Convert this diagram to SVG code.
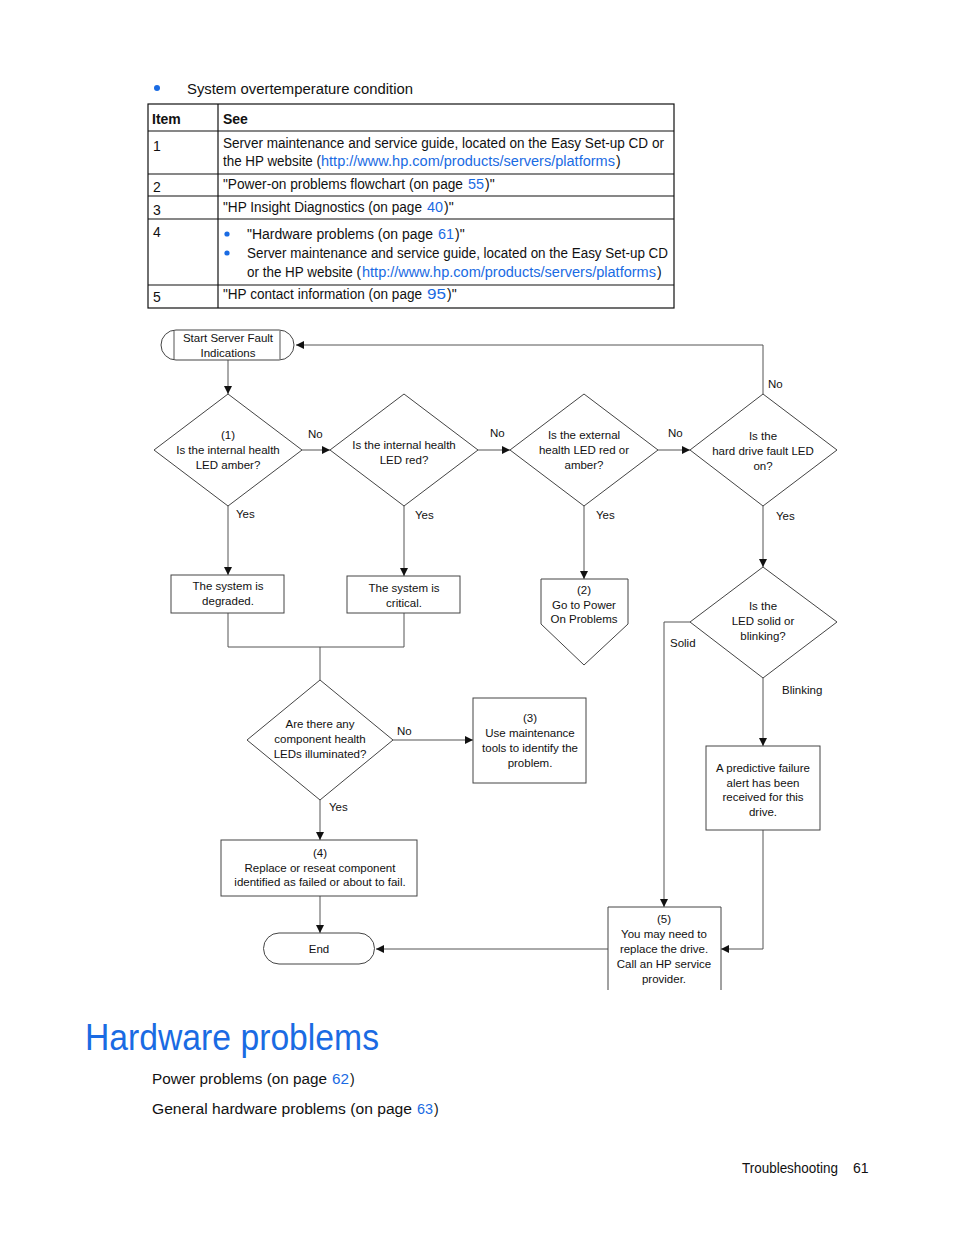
<svg xmlns="http://www.w3.org/2000/svg" width="954" height="1235" viewBox="0 0 954 1235">
<style>
.pg{font-family:"Liberation Sans",Arial,sans-serif;font-size:14px;fill:#111}
.b{font-weight:bold}
.lk{fill:#1a6be3}
.fc{font-family:"Liberation Sans",Arial,sans-serif;font-size:11.5px;fill:#111;text-anchor:middle}
.lb{font-family:"Liberation Sans",Arial,sans-serif;font-size:11.5px;fill:#111}
.sh{fill:#fff;stroke:#444;stroke-width:1}
.tl{stroke:#111;stroke-width:1.2;fill:none}
.ln{stroke:#555;stroke-width:1;fill:none}
</style>
<defs>
<marker id="ar" viewBox="0 0 10 10" refX="10" refY="5" markerWidth="10" markerHeight="8" markerUnits="userSpaceOnUse" orient="auto">
<path d="M0,0 L10,5 L0,10 z" fill="#111"/>
</marker>
</defs>
<rect width="954" height="1235" fill="#fff"/>

<g id="intro">
<circle cx="157" cy="88" r="3" fill="#1a6be3"/>
<text class="pg" x="187" y="94" textLength="226" lengthAdjust="spacingAndGlyphs">System overtemperature condition</text>
</g>

<g id="table">
<rect x="148" y="104" width="526" height="204" class="tl"/>
<line x1="218" y1="104" x2="218" y2="308" class="tl"/>
<line x1="148" y1="131" x2="674" y2="131" class="tl"/>
<line x1="148" y1="174" x2="674" y2="174" class="tl"/>
<line x1="148" y1="196" x2="674" y2="196" class="tl"/>
<line x1="148" y1="219" x2="674" y2="219" class="tl"/>
<line x1="148" y1="285" x2="674" y2="285" class="tl"/>
<text class="pg b" x="152" y="124">Item</text>
<text class="pg b" x="223" y="124">See</text>
<text class="pg" x="153" y="151">1</text>
<text class="pg" x="223" y="148" textLength="441" lengthAdjust="spacingAndGlyphs">Server maintenance and service guide, located on the Easy Set-up CD or</text>
<text class="pg" x="223" y="166" textLength="98" lengthAdjust="spacingAndGlyphs">the HP website (</text>
<text class="pg lk" x="321" y="166" textLength="294" lengthAdjust="spacingAndGlyphs">http://www.hp.com/products/servers/platforms</text>
<text class="pg" x="616" y="166">)</text>
<text class="pg" x="153" y="192">2</text>
<text class="pg" x="223" y="189" textLength="240" lengthAdjust="spacingAndGlyphs">"Power-on problems flowchart (on page</text>
<text class="pg lk" x="468" y="189" textLength="16" lengthAdjust="spacingAndGlyphs">55</text>
<text class="pg" x="485" y="189">)"</text>
<text class="pg" x="153" y="215">3</text>
<text class="pg" x="223" y="212" textLength="199" lengthAdjust="spacingAndGlyphs">"HP Insight Diagnostics (on page</text>
<text class="pg lk" x="427" y="212" textLength="16" lengthAdjust="spacingAndGlyphs">40</text>
<text class="pg" x="444" y="212">)"</text>
<text class="pg" x="153" y="237">4</text>
<circle cx="227" cy="234" r="2.6" fill="#1a6be3"/>
<circle cx="227" cy="253" r="2.6" fill="#1a6be3"/>
<text class="pg" x="247" y="239" textLength="186" lengthAdjust="spacingAndGlyphs">"Hardware problems (on page</text>
<text class="pg lk" x="438" y="239" textLength="16" lengthAdjust="spacingAndGlyphs">61</text>
<text class="pg" x="455" y="239">)"</text>
<text class="pg" x="247" y="258" textLength="421" lengthAdjust="spacingAndGlyphs">Server maintenance and service guide, located on the Easy Set-up CD</text>
<text class="pg" x="247" y="277" textLength="114" lengthAdjust="spacingAndGlyphs">or the HP website (</text>
<text class="pg lk" x="362" y="277" textLength="294" lengthAdjust="spacingAndGlyphs">http://www.hp.com/products/servers/platforms</text>
<text class="pg" x="657" y="277">)</text>
<text class="pg" x="153" y="302">5</text>
<text class="pg" x="223" y="299" textLength="199" lengthAdjust="spacingAndGlyphs">"HP contact information (on page</text>
<text class="pg lk" x="427" y="299" textLength="19" lengthAdjust="spacingAndGlyphs">95</text>
<text class="pg" x="447" y="299">)"</text>
</g>

<g id="connectors">
<polyline class="ln" points="763,394 763,345 296,345" marker-end="url(#ar)"/>
<line class="ln" x1="228" y1="360" x2="228" y2="394" marker-end="url(#ar)"/>
<line class="ln" x1="302" y1="450" x2="330" y2="450" marker-end="url(#ar)"/>
<line class="ln" x1="478" y1="450" x2="510" y2="450" marker-end="url(#ar)"/>
<line class="ln" x1="658" y1="450" x2="690" y2="450" marker-end="url(#ar)"/>
<line class="ln" x1="228" y1="506" x2="228" y2="575" marker-end="url(#ar)"/>
<line class="ln" x1="404" y1="506" x2="404" y2="576" marker-end="url(#ar)"/>
<line class="ln" x1="584" y1="506" x2="584" y2="579" marker-end="url(#ar)"/>
<line class="ln" x1="763" y1="506" x2="763" y2="567" marker-end="url(#ar)"/>
<polyline class="ln" points="228,613 228,647 404,647 404,613"/>
<line class="ln" x1="320" y1="647" x2="320" y2="680"/>
<line class="ln" x1="393" y1="740" x2="473" y2="740" marker-end="url(#ar)"/>
<line class="ln" x1="320" y1="800" x2="320" y2="840" marker-end="url(#ar)"/>
<line class="ln" x1="320" y1="896" x2="320" y2="933" marker-end="url(#ar)"/>
<polyline class="ln" points="690,622 664,622 664,907" marker-end="url(#ar)"/>
<line class="ln" x1="763" y1="678" x2="763" y2="746" marker-end="url(#ar)"/>
<polyline class="ln" points="763,830 763,949 721,949" marker-end="url(#ar)"/>
<line class="ln" x1="608" y1="949" x2="376" y2="949" marker-end="url(#ar)"/>
<text class="lb" x="308" y="438">No</text>
<text class="lb" x="490" y="437">No</text>
<text class="lb" x="668" y="437">No</text>
<text class="lb" x="768" y="388">No</text>
<text class="lb" x="236" y="518">Yes</text>
<text class="lb" x="415" y="519">Yes</text>
<text class="lb" x="596" y="519">Yes</text>
<text class="lb" x="776" y="520">Yes</text>
<text class="lb" x="670" y="647">Solid</text>
<text class="lb" x="782" y="694">Blinking</text>
<text class="lb" x="397" y="735">No</text>
<text class="lb" x="329" y="811">Yes</text>
</g>

<g id="start">
<path class="sh" d="M176,330 L279,330 A15,15 0 0 1 279,360 L176,360 A15,15 0 0 1 176,330 Z"/>
<line class="ln" x1="174" y1="331" x2="174" y2="359" stroke="#444"/>
<line class="ln" x1="280" y1="331" x2="280" y2="359" stroke="#444"/>
<text class="fc" x="228" y="342">Start Server Fault</text>
<text class="fc" x="228" y="357">Indications</text>
</g>

<g id="d1">
<polygon class="sh" points="228,394 302,450 228,506 154,450"/>
<text class="fc" x="228" y="439">(1)</text>
<text class="fc" x="228" y="454">Is the internal health</text>
<text class="fc" x="228" y="469">LED amber?</text>
</g>
<g id="d2">
<polygon class="sh" points="404,394 478,450 404,506 330,450"/>
<text class="fc" x="404" y="449">Is the internal health</text>
<text class="fc" x="404" y="464">LED red?</text>
</g>
<g id="d3">
<polygon class="sh" points="584,394 658,450 584,506 510,450"/>
<text class="fc" x="584" y="439">Is the external</text>
<text class="fc" x="584" y="454">health LED red or</text>
<text class="fc" x="584" y="469">amber?</text>
</g>
<g id="d4">
<polygon class="sh" points="763,394 837,450 763,506 690,450"/>
<text class="fc" x="763" y="440">Is the</text>
<text class="fc" x="763" y="455">hard drive fault LED</text>
<text class="fc" x="763" y="470">on?</text>
</g>

<g id="degraded">
<rect class="sh" x="171" y="575" width="113" height="38"/>
<text class="fc" x="228" y="590">The system is</text>
<text class="fc" x="228" y="605">degraded.</text>
</g>
<g id="critical">
<rect class="sh" x="347" y="576" width="113" height="37"/>
<text class="fc" x="404" y="592">The system is</text>
<text class="fc" x="404" y="607">critical.</text>
</g>
<g id="power">
<polygon class="sh" points="541,579 628,579 628,624 584,665 541,624"/>
<text class="fc" x="584" y="594">(2)</text>
<text class="fc" x="584" y="609">Go to Power</text>
<text class="fc" x="584" y="623">On Problems</text>
</g>
<g id="d5">
<polygon class="sh" points="763,567 837,622 763,678 690,622"/>
<text class="fc" x="763" y="610">Is the</text>
<text class="fc" x="763" y="625">LED solid or</text>
<text class="fc" x="763" y="640">blinking?</text>
</g>

<g id="d6">
<polygon class="sh" points="320,680 393,740 320,800 247,740"/>
<text class="fc" x="320" y="728">Are there any</text>
<text class="fc" x="320" y="743">component health</text>
<text class="fc" x="320" y="758">LEDs illuminated?</text>
</g>
<g id="tools">
<rect class="sh" x="473" y="698" width="113" height="85"/>
<text class="fc" x="530" y="722">(3)</text>
<text class="fc" x="530" y="737">Use maintenance</text>
<text class="fc" x="530" y="752">tools to identify the</text>
<text class="fc" x="530" y="767">problem.</text>
</g>
<g id="predictive">
<rect class="sh" x="706" y="746" width="114" height="84"/>
<text class="fc" x="763" y="772">A predictive failure</text>
<text class="fc" x="763" y="787">alert has been</text>
<text class="fc" x="763" y="801">received for this</text>
<text class="fc" x="763" y="816">drive.</text>
</g>
<g id="replace">
<rect class="sh" x="221" y="840" width="196" height="56"/>
<text class="fc" x="320" y="857">(4)</text>
<text class="fc" x="320" y="872">Replace or reseat component</text>
<text class="fc" x="320" y="886">identified as failed or about to fail.</text>
</g>
<g id="end">
<path class="sh" d="M279,933 L359,933 A15.5,15.5 0 0 1 359,964 L279,964 A15.5,15.5 0 0 1 279,933 Z"/>
<text class="fc" x="319" y="953">End</text>
</g>
<g id="callhp">
<polyline class="sh" points="608,990 608,907 721,907 721,990"/>
<text class="fc" x="664" y="923">(5)</text>
<text class="fc" x="664" y="938">You may need to</text>
<text class="fc" x="664" y="953">replace the drive.</text>
<text class="fc" x="664" y="968">Call an HP service</text>
<text class="fc" x="664" y="983">provider.</text>
</g>

<g id="footer">
<text x="85" y="1050" font-family="'Liberation Sans',Arial,sans-serif" font-size="36" fill="#1a6be3" textLength="294" lengthAdjust="spacingAndGlyphs">Hardware problems</text>
<text class="pg" x="152" y="1084" textLength="175" lengthAdjust="spacingAndGlyphs">Power problems (on page</text>
<text class="pg lk" x="332" y="1084" textLength="17" lengthAdjust="spacingAndGlyphs">62</text>
<text class="pg" x="350" y="1084">)</text>
<text class="pg" x="152" y="1114" textLength="260" lengthAdjust="spacingAndGlyphs">General hardware problems (on page</text>
<text class="pg lk" x="417" y="1114" textLength="16" lengthAdjust="spacingAndGlyphs">63</text>
<text class="pg" x="434" y="1114">)</text>
<text class="pg" x="742" y="1173" textLength="96" lengthAdjust="spacingAndGlyphs">Troubleshooting</text>
<text class="pg" x="853" y="1173">61</text>
</g>
</svg>
